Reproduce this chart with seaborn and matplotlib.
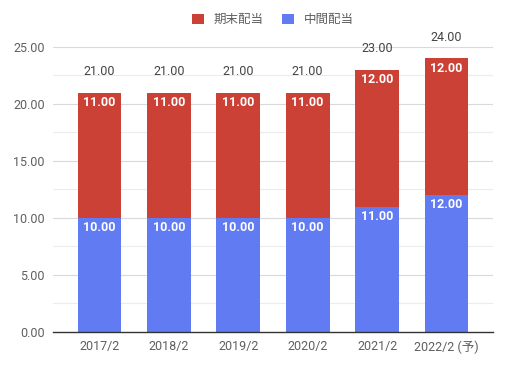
import matplotlib
matplotlib.use("Agg")
import matplotlib.pyplot as plt
import seaborn as sns
import pandas as pd
import numpy as np

# datos
years = ["2017/2", "2018/2", "2019/2", "2020/2", "2021/2", "2022/2 (予)"]
chukan = [10, 10, 10, 10, 11, 12]   # 中間配当
kimatsu = [11, 11, 11, 11, 12, 12]  # 期末配当
RED = "#cc4136"
BLUE = "#617bf2"

sns.set_theme(style="white")
plt.rcParams['font.family'] = ['Roboto', 'Noto Sans CJK JP', 'DejaVu Sans']

df = pd.DataFrame({"year": years, "chukan": chukan, "kimatsu": kimatsu})
df["total"] = df["chukan"] + df["kimatsu"]

fig = plt.figure(figsize=(5.11, 3.67), dpi=100)
ax = fig.add_axes([0.1037, 0.0954, 0.861, 0.7766])

# grid
for v in np.arange(2.5, 25.01, 2.5):
    ax.axhline(v, color="#d9d9d9" if v % 5 == 0 else "#ececec", lw=0.8, zorder=0)

sns.barplot(data=df, x="year", y="total", color=RED, width=0.63, saturation=1,
            ax=ax, label="期末配当", zorder=2, linewidth=0)
sns.barplot(data=df, x="year", y="chukan", color=BLUE, width=0.63, saturation=1,
            ax=ax, label="中間配当", zorder=3, linewidth=0)

ax.set_ylim(0, 25)
ax.set_xlim(-0.67, 5.67)
ax.set_yticks(np.arange(0, 25.01, 5))
ax.set_yticklabels([f"{v:.2f}" for v in np.arange(0, 25.01, 5)])
ax.set_xlabel("")
ax.set_ylabel("")
ax.tick_params(axis="both", length=0, labelsize=9, colors="#5f5f5f", pad=6)
for s in ["top", "right", "left"]:
    ax.spines[s].set_visible(False)
ax.spines["bottom"].set_color("#333333")
ax.spines["bottom"].set_linewidth(1.0)
ax.spines["bottom"].set_zorder(5)

for i, row in df.iterrows():
    ax.annotate(f"{row['chukan']:.2f}", (i, row["chukan"]), xytext=(0, -7),
                textcoords="offset points", ha="center", va="center",
                color="white", fontsize=9, fontweight="bold", zorder=6)
    ax.annotate(f"{row['kimatsu']:.2f}", (i, row["total"]), xytext=(0, -7),
                textcoords="offset points", ha="center", va="center",
                color="white", fontsize=9, fontweight="bold", zorder=6)
    ax.annotate(f"{row['total']:.2f}", (i, row["total"]), xytext=(0, 15),
                textcoords="offset points", ha="center", va="center",
                color="#444444", fontsize=9, annotation_clip=False)

leg = ax.legend(loc="center", bbox_to_anchor=(0.5, 1.095), ncol=2, frameon=False,
                fontsize=9, handlelength=0.9, handleheight=0.9, handletextpad=0.8,
                columnspacing=1.5, labelcolor="#5f5f5f")

fig.savefig("out.png", dpi=100)
